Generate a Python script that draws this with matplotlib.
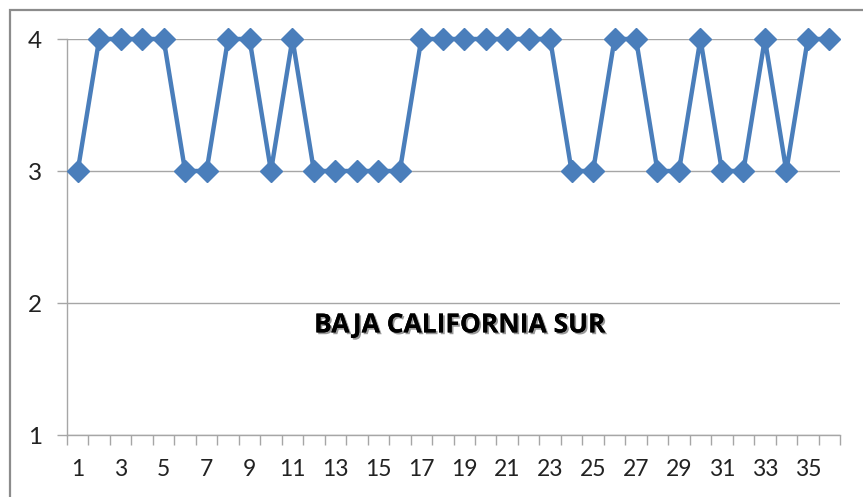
import matplotlib.pyplot as plt
import matplotlib.patheffects as pe
from matplotlib.patches import Rectangle
import numpy as np

# datos
periodos = list(range(1, 37))
valores = [3, 4, 4, 4, 4, 3, 3, 4, 4, 3, 4, 3, 3, 3, 3, 3, 4, 4,
           4, 4, 4, 4, 4, 3, 3, 4, 4, 3, 3, 4, 3, 3, 4, 3, 4, 4]
etiquetas_x = [str(p) for p in periodos[::2]]
niveles_y = [1, 2, 3, 4]
titulo = "BAJA CALIFORNIA SUR"

azul = "#4A7EBB"
gris = "#A6A6A6"

plt.rcParams["font.family"] = ["Lato", "DejaVu Sans"]

fig = plt.figure(figsize=(8.63, 4.97), dpi=100)
W, H = 863, 497
ax = fig.add_axes([67 / W, 1 - 435 / H, (840 - 67) / W, (435 - 39) / H])

# borde del area del grafico
fig.patches.append(Rectangle((10 / W, -0.1), 1.2, 1.1 - 9.5 / H, transform=fig.transFigure,
                             fill=False, edgecolor="#8C8C8C", linewidth=1.6, zorder=0))

ax.plot(periodos, valores, color=azul, lw=3.2, marker="D", markersize=11,
        markeredgecolor=azul, clip_on=False, zorder=3)

ax.set_xlim(0.5, 36.5)
ax.set_ylim(1, 4)

ax.set_xticks(np.arange(0.5, 37, 1))
ax.set_xticklabels([])
ax.set_xticks(periodos[::2], minor=True)
ax.set_xticklabels(etiquetas_x, minor=True)
ax.tick_params(axis="x", which="major", length=7, width=1, color=gris, direction="out")
ax.tick_params(axis="x", which="minor", length=0, pad=17, labelsize=16.5, labelcolor="#222222")

ax.set_yticks(niveles_y)
ax.tick_params(axis="y", length=7, width=1, color=gris, pad=11, labelsize=17.5, labelcolor="#222222")
ax.yaxis.grid(True, color=gris, lw=1)
ax.set_axisbelow(True)

for s in ["top", "right"]:
    ax.spines[s].set_visible(False)
for s in ["left", "bottom"]:
    ax.spines[s].set_color(gris)
    ax.spines[s].set_linewidth(1)

ax.text(0.508, 0.278, titulo, transform=ax.transAxes, ha="center", va="center",
        fontsize=19, fontweight="bold", color="black", family=["Open Sans", "DejaVu Sans"],
        path_effects=[pe.withSimplePatchShadow(offset=(1.3, -1.3), shadow_rgbFace="#808080", alpha=0.8),
                      pe.Normal()])

fig.savefig("out.png", dpi=100)
